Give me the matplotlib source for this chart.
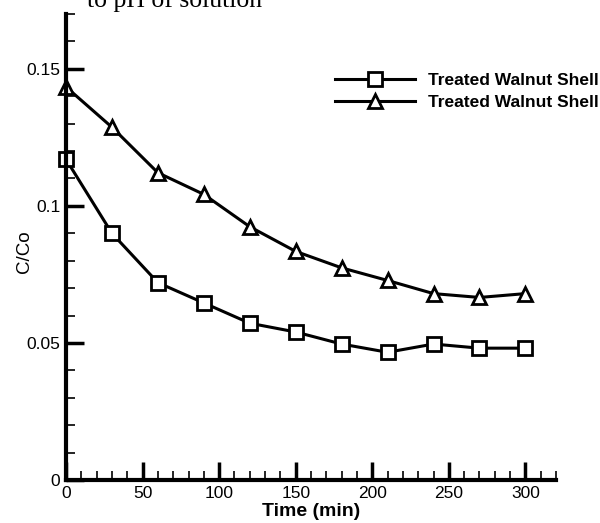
import matplotlib
matplotlib.use("Agg")
import matplotlib.pyplot as plt
from matplotlib.ticker import MultipleLocator, FixedLocator

time_min = [0, 30, 60, 90, 120, 150, 180, 210, 240, 270, 300]
series_square = [0.117, 0.090, 0.072, 0.0646, 0.0572, 0.054, 0.0496, 0.0466, 0.0496, 0.0481, 0.0481]
series_triangle = [0.1434, 0.1287, 0.1121, 0.1042, 0.0924, 0.0834, 0.0774, 0.0728, 0.068, 0.0666, 0.068]
legend_labels = ["Treated Walnut Shell", "Treated Walnut Shell"]
y_ticks = [0, 0.05, 0.1, 0.15]
y_tick_labels = ["0", "0.05", "0.1", "0.15"]
x_ticks = [0, 50, 100, 150, 200, 250, 300]
x_label = "Time (min)"
y_label = "C/Co"
caption_fragment = "to pH of solution"

plt.rcParams['font.family'] = ['Liberation Sans', 'DejaVu Sans']

fig = plt.figure(figsize=(6.0, 5.23), dpi=100)
ax = fig.add_axes([0.11, 0.0822, 0.8167, 0.891])

l1, = ax.plot(time_min, series_square, color='black', lw=2.2, marker='s', ms=9.5,
              mfc='white', mec='black', mew=2.0, zorder=3, clip_on=False)
l2, = ax.plot(time_min, series_triangle, color='black', lw=2.2, marker='^', ms=10.5,
              mfc='white', mec='black', mew=2.0, zorder=3, clip_on=False)

ax.set_xlim(0, 320)
ax.set_ylim(0, 0.17)

for s in ['top', 'right']:
    ax.spines[s].set_visible(False)
for s in ['left', 'bottom']:
    ax.spines[s].set_linewidth(3)
    ax.spines[s].set_zorder(4)

ax.xaxis.set_major_locator(FixedLocator(x_ticks))
ax.xaxis.set_minor_locator(MultipleLocator(10))
ax.yaxis.set_major_locator(FixedLocator(y_ticks))
ax.set_yticklabels(y_tick_labels)
ax.yaxis.set_minor_locator(MultipleLocator(0.01))

ax.tick_params(which='major', direction='in', length=13, width=2.5, labelsize=12.5, pad=4)
ax.tick_params(which='minor', direction='in', length=6.5, width=1.2)

ax.set_xlabel(x_label, fontsize=14, fontweight='bold', labelpad=2)
ax.set_ylabel(y_label, fontsize=13.5)
ax.yaxis.set_label_coords(-0.068, 0.49)

leg = ax.legend([l1, l2], legend_labels, loc='upper left', bbox_to_anchor=(335/600, 1 - 73/523),
                bbox_transform=fig.transFigure, frameon=False,
                prop={'weight': 'bold', 'size': 12.5}, handlelength=4.6,
                handletextpad=0.75, labelspacing=0.4, borderpad=0, borderaxespad=0)

fig.text(87/600, 1 - 7/523, caption_fragment, family='Liberation Serif', fontsize=18.5,
         va='baseline', ha='left')

fig.savefig("out.png", dpi=100)
